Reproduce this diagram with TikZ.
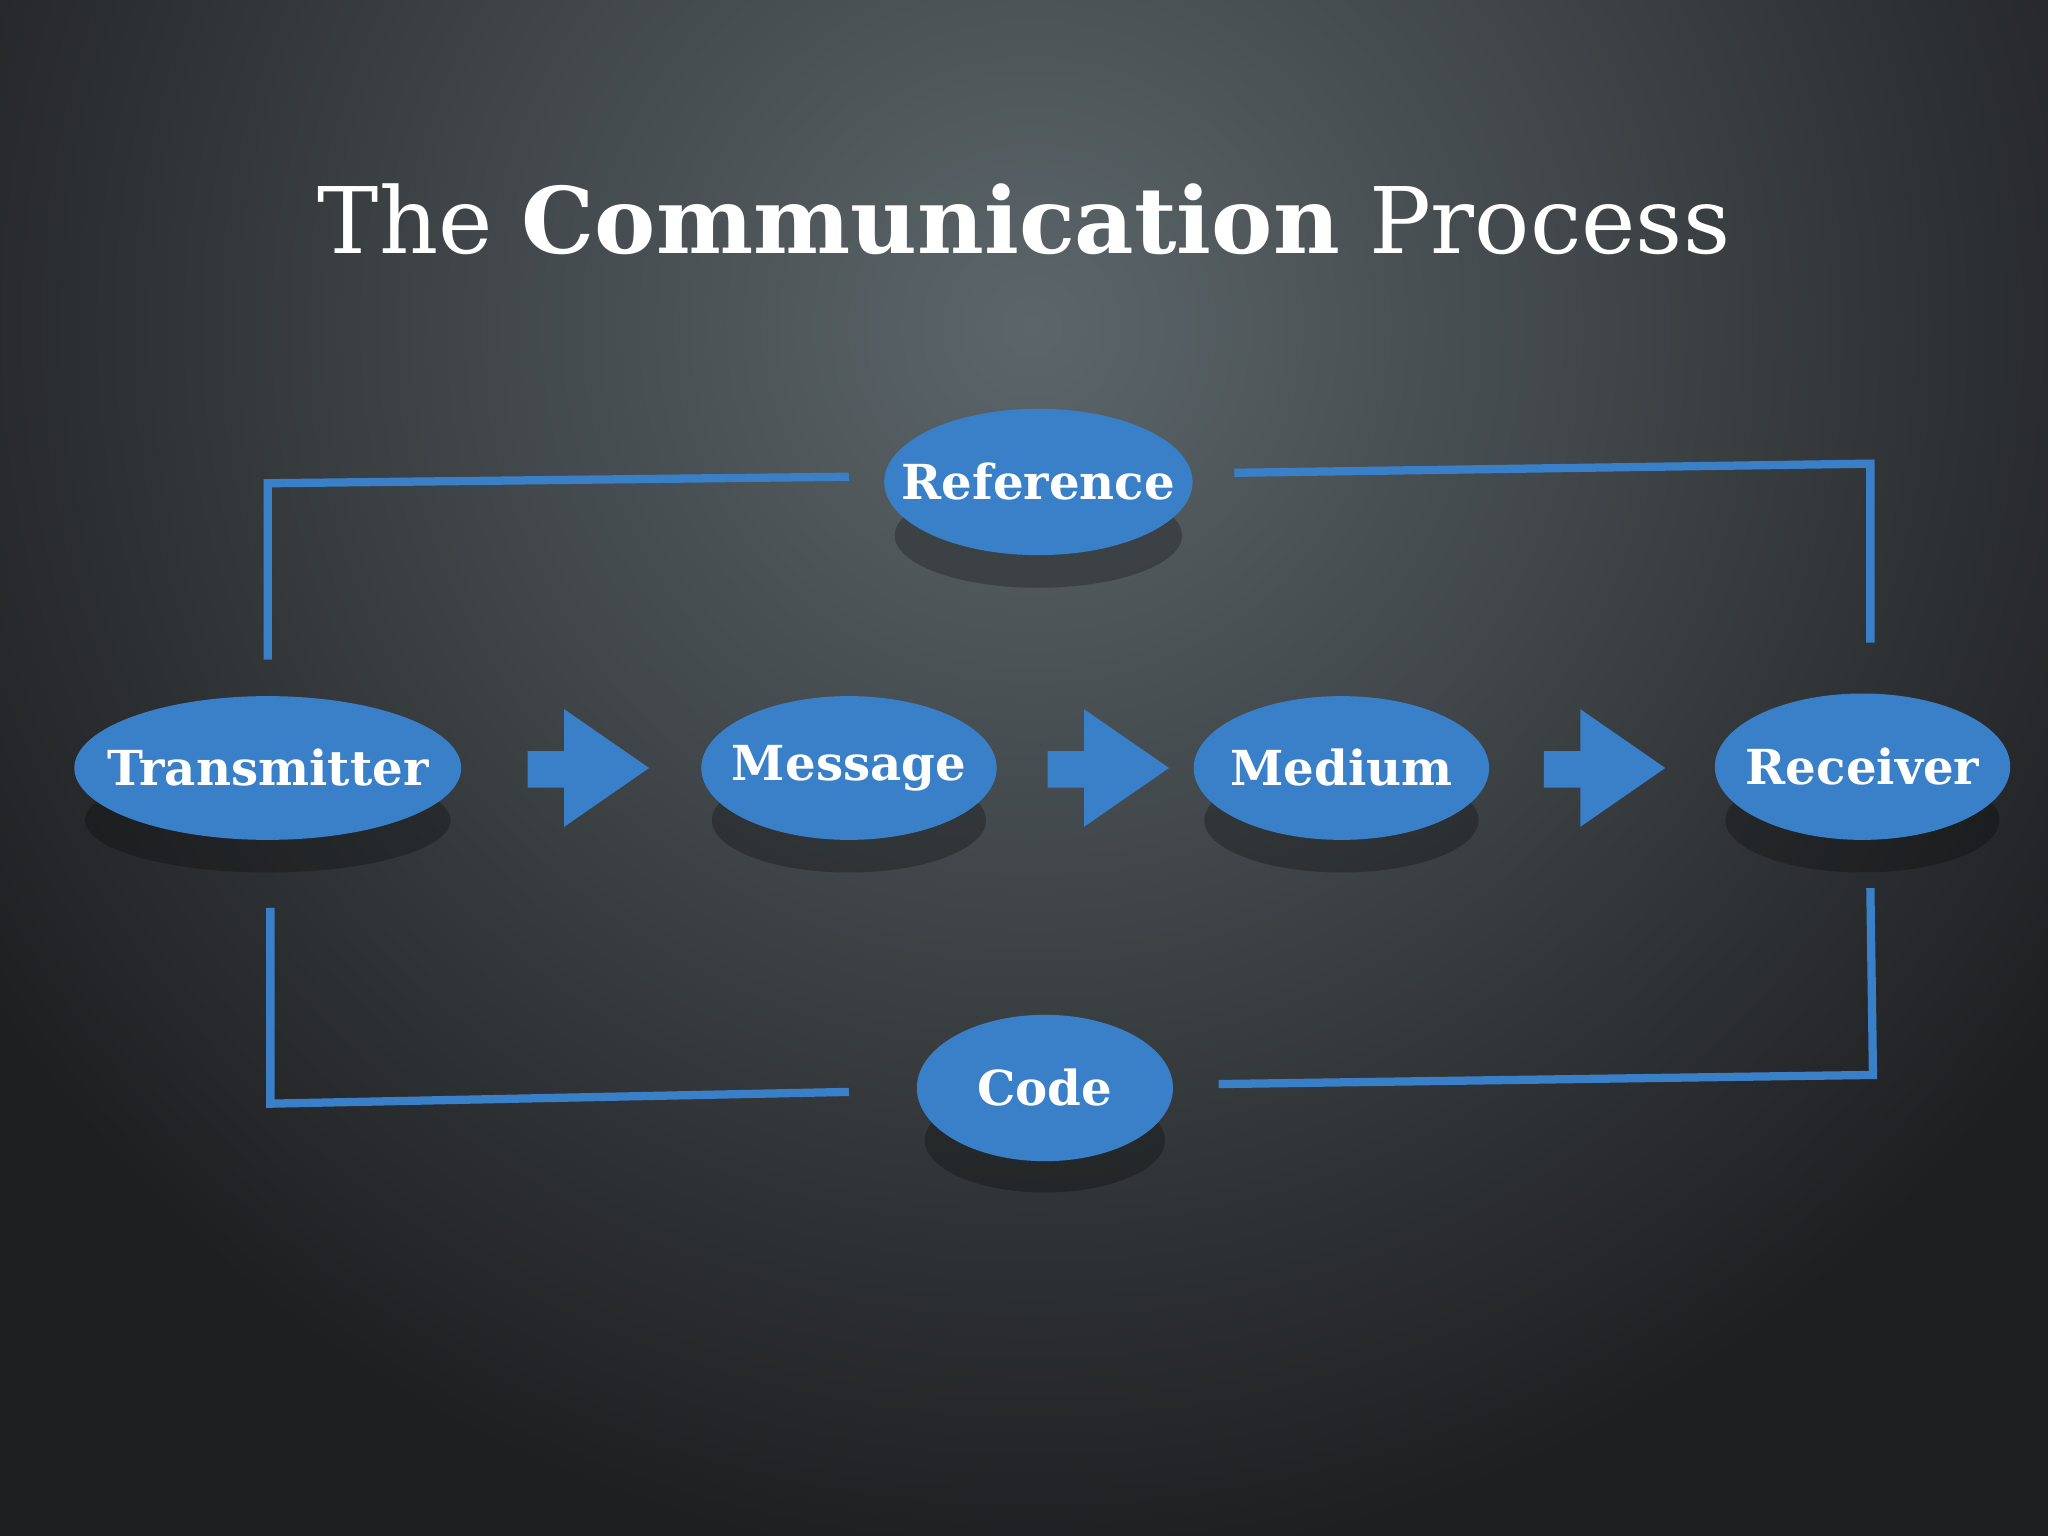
\documentclass[tikz,border=0pt]{standalone}
\usepackage{fontspec}
\setmainfont{DejaVu Serif}
\usetikzlibrary{shapes.geometric}
\definecolor{ebl}{RGB}{58,128,200}
\definecolor{bgin}{RGB}{92,102,106}
\definecolor{bgout}{RGB}{30,31,33}
\tikzset{
  ell/.style={ellipse,fill=ebl,inner ysep=0pt,inner xsep=-0.45cm,text=white,font=\bfseries\fontsize{10.5}{13}\selectfont},
  lnk/.style={draw=ebl,line width=1.8pt},
  blk/.style={fill=ebl}
}
\begin{document}
\begin{tikzpicture}[x=0.01cm,y=-0.01cm]
\useasboundingbox (0,0) rectangle (1568,1176);
\begin{scope}
\clip (0,0) rectangle (1568,1176);
\fill[bgout] (0,0) rectangle (1568,1176);
\shade[inner color=bgin,outer color=bgout] (790,250) circle (950);
\end{scope}
\node[text=white,font=\fontsize{20}{24}\selectfont] (title) at (784,168) {The \textbf{Communication} Process};
% shadows
\foreach \x/\y/\rx in {205/628/140,650/628/105,1027/628/105,1426/628/105,795/410/110,800/873/92}
  \fill[black,opacity=0.25] (\x,\y) ellipse ({\rx} and 40);
\node[ell,minimum width=2.96cm,minimum height=1.1cm] (tr) at (205,588) {Transmitter};
\node[ell,minimum width=2.26cm,minimum height=1.1cm] (me) at (650,588) {Message};
\node[ell,minimum width=2.26cm,minimum height=1.1cm] (md) at (1027,588) {Medium};
\node[ell,minimum width=2.26cm,minimum height=1.12cm] (re) at (1426,587) {Receiver};
\node[ell,minimum width=2.36cm,minimum height=1.12cm] (rf) at (795,369) {Reference};
\node[ell,minimum width=1.96cm,minimum height=1.12cm] (cd) at (800,833) {Code};
% block arrows
\foreach \a in {404,802,1182}
  \fill[blk] (\a,575) -- (\a+28,575) -- (\a+28,543) -- (\a+93,588) -- (\a+28,633) -- (\a+28,603) -- (\a,603) -- cycle;
% links
\coordinate (tl1) at (205,505); \coordinate (tl2) at (205,370); \coordinate (tl3) at (650,365);
\coordinate (tr1) at (945,362); \coordinate (tr2) at (1432,355); \coordinate (tr3) at (1432,492);
\coordinate (bl1) at (207,695); \coordinate (bl2) at (207,845); \coordinate (bl3) at (650,836);
\coordinate (br1) at (933,830); \coordinate (br2) at (1434,823); \coordinate (br3) at (1432,680);
\draw[lnk] (tl1) -- (tl2) -- (tl3);
\draw[lnk] (tr1) -- (tr2) -- (tr3);
\draw[lnk] (bl1) -- (bl2) -- (bl3);
\draw[lnk] (br1) -- (br2) -- (br3);
\end{tikzpicture}
\end{document}
